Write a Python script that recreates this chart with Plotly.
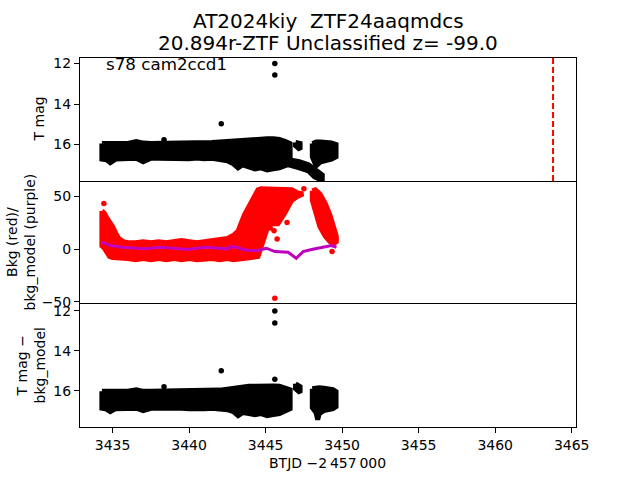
import plotly.graph_objects as go
from plotly.subplots import make_subplots

# ---------------- data ----------------
title_line1 = "AT2024kiy \u00a0ZTF24aaqmdcs"
title_line2 = "20.894r-ZTF Unclassified z= -99.0"
sector_label = "s78 cam2ccd1"
t_disc = 3463.78

# Panel 1: T mag cloud envelopes (upper = brighter edge, lower = fainter edge)
p1_main_t = [3434.3, 3434.6, 3434.85, 3435.2, 3435.6, 3436.0, 3436.55, 3437.0, 3437.5, 3438.0,
             3438.5, 3439.0, 3439.5, 3440.0, 3440.5, 3441.0, 3441.5, 3442.0, 3442.5, 3442.9,
             3443.2, 3443.5, 3443.9, 3444.3, 3444.7, 3445.1, 3445.5, 3445.9, 3446.3, 3446.6]
p1_main_top = [15.95, 15.95, 15.97, 15.95, 15.93, 15.95, 15.85, 15.93, 15.95, 15.95,
               15.93, 15.93, 15.95, 15.93, 15.93, 15.92, 15.9, 15.88, 15.85, 15.82,
               15.78, 15.78, 15.75, 15.75, 15.72, 15.72, 15.72, 15.75, 15.85, 15.95]
p1_main_bot = [16.72, 16.75, 16.9, 16.72, 16.68, 16.7, 16.68, 16.85, 16.68, 16.68,
               16.66, 16.7, 16.68, 16.7, 16.66, 16.7, 16.68, 16.72, 16.8, 16.95,
               17.15, 17.0, 17.1, 17.2, 17.15, 17.25, 17.2, 17.15, 17.05, 16.95]
p1_arm_t = [3446.5, 3447.2, 3447.8, 3448.2, 3448.5, 3448.7]
p1_arm_top = [16.75, 16.85, 17.0, 17.2, 17.35, 17.5]
p1_arm_bot = [17.0, 17.15, 17.3, 17.6, 17.7, 17.7]
p1_blob_t = [3446.95, 3447.25]
p1_blob_top = [15.9, 15.95]
p1_blob_bot = [16.05, 16.25]
p1_sec2_t = [3448.05, 3448.3, 3448.6, 3449.0, 3449.3, 3449.6]
p1_sec2_top = [15.95, 15.88, 15.88, 15.9, 15.92, 16.0]
p1_sec2_bot = [16.6, 17.05, 16.85, 16.75, 16.72, 16.6]
p1_out_t = [3445.6, 3445.6, 3442.1, 3438.36]
p1_out_m = [12.0, 12.57, 14.98, 15.76]

# Panel 2: background (red) envelopes and background model (purple)
bkg_main_t = [3434.3, 3434.45, 3434.6, 3434.8, 3435.0, 3435.2, 3435.4, 3435.7, 3436.0, 3436.5,
              3437.0, 3437.5, 3438.0, 3438.5, 3439.0, 3439.5, 3440.0, 3440.5, 3441.0, 3441.5,
              3442.0, 3442.5, 3442.9, 3443.2, 3443.6, 3444.05, 3444.5, 3444.7, 3444.95, 3445.2,
              3445.8, 3446.25, 3446.7, 3447.1, 3447.45]
bkg_main_top = [36, 34, 30, 26, 21, 15, 10, 7, 6, 6,
                7, 6, 7, 6, 7, 8, 7, 6, 7, 8,
                9, 10, 13, 17, 32, 45, 56, 57, 57, 57,
                57, 57, 56, 53, 52]
bkg_main_bot = [3, 1, -2, -7, -8, -9, -8, -9, -9, -10,
                -9, -10, -9, -10, -9, -10, -9, -10, -10, -9,
                -10, -9, -10, -9, -9, -8, -7, 2, 14, 24,
                24, 34, 46, 50, 52]
bkg_sec2_t = [3448.05, 3448.25, 3448.55, 3448.9, 3449.2, 3449.45, 3449.62]
bkg_sec2_top = [55, 56, 52, 43, 32, 22, 12]
bkg_sec2_bot = [46, 37, 21, 12, 7, 5, 7]
bkg_out_t = [3434.43, 3445.6, 3449.34, 3445.55, 3445.75, 3446.4, 3447.5, 3445.3]
bkg_out_v = [43.0, -46.5, -2.4, 17.4, 9.6, 25.0, 57.0, 20.0]
model_t = [3434.26, 3434.9, 3435.57, 3437.1, 3438.2, 3439.9, 3441.0, 3442.54, 3442.76, 3443.85,
           3444.5, 3445.05, 3445.6, 3446.47, 3447.0, 3447.45, 3448.0, 3448.87, 3449.3, 3449.63]
model_v = [6.5, 3.3, 1.7, 0.2, 1.7, -0.5, 1.7, 0.2, 2.7, -1.4,
           -1.4, 0.8, -2.4, -3.0, -8.7, -2.4, -0.5, 1.7, 3.3, 1.7]

# Panel 3: T mag - bkg_model
p3_main_t = p1_main_t
p3_main_top = [16.03, 16.03, 16.05, 16.03, 16.02, 16.03, 15.95, 16.03, 16.03, 16.03,
               16.02, 16.02, 16.03, 16.02, 16.02, 16.0, 16.0, 15.97, 15.92, 15.88,
               15.82, 15.8, 15.78, 15.78, 15.76, 15.76, 15.76, 15.78, 15.85, 15.95]
p3_main_bot = [16.88, 16.92, 17.05, 16.9, 16.88, 16.9, 16.88, 17.0, 16.88, 16.88,
               16.87, 16.9, 16.88, 16.9, 16.87, 16.9, 16.88, 16.9, 16.95, 17.05,
               17.25, 17.1, 17.15, 17.2, 17.15, 17.25, 17.2, 17.15, 17.0, 16.9]
p3_blob_t = [3446.95, 3447.25]
p3_blob_top = [15.65, 15.8]
p3_blob_bot = [15.9, 16.1]
p3_sec2_t = [3448.05, 3448.3, 3448.4, 3448.5, 3448.8, 3449.1, 3449.4, 3449.6]
p3_sec2_top = [15.9, 15.85, 15.85, 15.85, 15.88, 15.9, 15.95, 16.05]
p3_sec2_bot = [16.85, 17.1, 17.45, 17.15, 17.0, 16.95, 16.9, 16.8]
p3_out_t = [3445.6, 3445.6, 3442.1, 3445.6, 3438.36]
p3_out_m = [12.0, 12.6, 15.0, 15.43, 15.8]

x_ticks = [3435, 3440, 3445, 3450, 3455, 3460, 3465]

# ---------------- figure ----------------
fig = make_subplots(rows=3, cols=1, shared_xaxes=True, vertical_spacing=0)

FONT = "DejaVu Sans"


def band(t, top, bot, color, row, width=5):
    xs = list(t) + list(t)[::-1] + [t[0]]
    ys = list(top) + list(bot)[::-1] + [top[0]]
    fig.add_trace(go.Scatter(x=xs, y=ys, mode="lines", fill="toself", fillcolor=color,
                             line=dict(color=color, width=width), hoverinfo="skip",
                             showlegend=False), row=row, col=1)


def dots(t, v, color, row, size=5.5):
    fig.add_trace(go.Scatter(x=t, y=v, mode="markers", marker=dict(color=color, size=size),
                             showlegend=False, cliponaxis=True), row=row, col=1)


band(p1_main_t, p1_main_top, p1_main_bot, "black", 1)
band(p1_arm_t, p1_arm_top, p1_arm_bot, "black", 1)
band(p1_blob_t, p1_blob_top, p1_blob_bot, "black", 1)
band(p1_sec2_t, p1_sec2_top, p1_sec2_bot, "black", 1)
dots(p1_out_t, p1_out_m, "black", 1)

band(bkg_main_t, bkg_main_top, bkg_main_bot, "#ff0000", 2)
band(bkg_sec2_t, bkg_sec2_top, bkg_sec2_bot, "#ff0000", 2)
dots(bkg_out_t, bkg_out_v, "#ff0000", 2)
fig.add_trace(go.Scatter(x=model_t, y=model_v, mode="lines",
                         line=dict(color="#bf00bf", width=3), showlegend=False), row=2, col=1)

band(p3_main_t, p3_main_top, p3_main_bot, "black", 3)
band(p3_blob_t, p3_blob_top, p3_blob_bot, "black", 3)
band(p3_sec2_t, p3_sec2_top, p3_sec2_bot, "black", 3)
dots(p3_out_t, p3_out_m, "black", 3)

fig.add_shape(type="line", xref="x", yref="y domain", x0=t_disc, x1=t_disc, y0=0, y1=1,
              line=dict(color="#ff0000", width=2, dash="6px,3px"))

axis_common = dict(linecolor="black", linewidth=1, showgrid=False, zeroline=False,
                   tickcolor="black", ticklen=5, tickwidth=1,
                   tickfont=dict(family=FONT, size=14, color="black"))

fig.update_xaxes(range=[3432.87, 3465.28], row=1, col=1, showline=True, mirror=True,
                 ticks="", showticklabels=False, **axis_common)
fig.update_xaxes(range=[3432.87, 3465.28], row=2, col=1, showline=False,
                 ticks="", showticklabels=False, **axis_common)
fig.update_xaxes(range=[3432.87, 3465.28], row=3, col=1, showline=True, mirror=True,
                 ticks="outside", tickvals=x_ticks, **axis_common)

fig.update_yaxes(range=[17.8, 11.73], tickvals=[12, 14, 16], ticks="outside", showline=True,
                 mirror=True, row=1, col=1, **axis_common)
fig.update_yaxes(range=[-51.9, 64.3], tickvals=[-50, 0, 50], ticks="outside", showline=True,
                 mirror=True, row=2, col=1, **axis_common)
fig.update_yaxes(range=[17.82, 11.65], tickvals=[12, 14, 16], ticks="outside", showline=True,
                 mirror=True, row=3, col=1, **axis_common)

H = 369.0
W = 496.0


def py(p):
    return (427.0 - p) / H


def px(p):
    return (p - 80.0) / W


annots = [
    dict(text=title_line1, x=0.5, y=py(21), size=20, angle=0, xanchor="center"),
    dict(text=title_line2, x=0.5, y=py(43), size=20, angle=0, xanchor="center"),
    dict(text=sector_label, x=px(104), y=py(64), size=16.7, angle=0, xanchor="left"),
    dict(text="T mag", x=px(39), y=py(119.5), size=14, angle=-90, xanchor="center"),
    dict(text="Bkg (red)/<br>bkg_model (purple)", x=px(20), y=py(242.5), size=14, angle=-90,
         xanchor="center"),
    dict(text="T mag \u2212<br>bkg_model", x=px(30), y=py(365.5), size=14, angle=-90,
         xanchor="center"),
    dict(text="BTJD \u22122\u2009457\u2009000", x=px(327.5), y=py(463), size=14, angle=0,
         xanchor="center"),
]
for a in annots:
    fig.add_annotation(text=a["text"], xref="paper", yref="paper", x=a["x"], y=a["y"],
                       xanchor=a["xanchor"], yanchor="middle", showarrow=False,
                       textangle=a["angle"],
                       font=dict(family=FONT, size=a["size"], color="black"))

fig.update_layout(width=640, height=480, margin=dict(l=80, r=64, t=58, b=53),
                  plot_bgcolor="white", paper_bgcolor="white", showlegend=False,
                  hovermode=False,
                  font=dict(family=FONT, color="black"))

# remove the browser's default 8px body margin so the figure sits at the page origin
fig.write_html("out.html",
               config={"displayModeBar": False, "staticPlot": True},
               post_script="document.body.style.margin='0px';document.body.style.overflow='hidden';")
